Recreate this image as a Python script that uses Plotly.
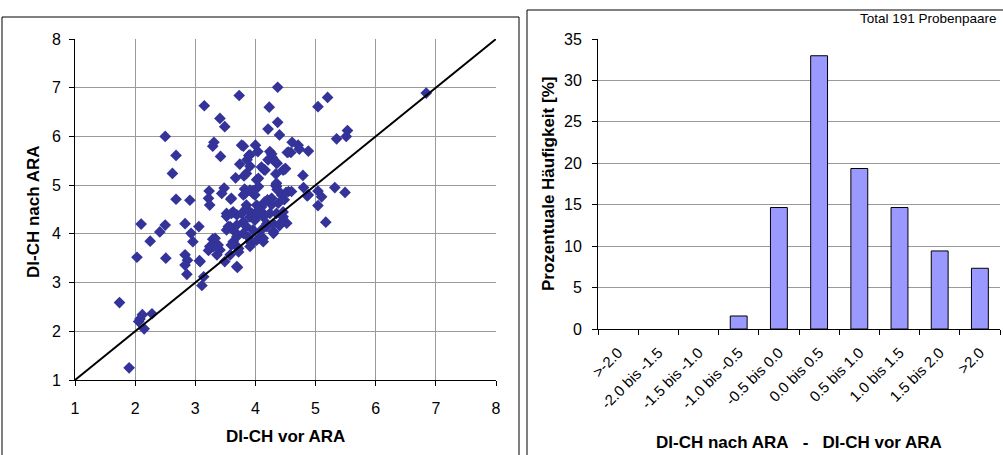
import plotly.graph_objects as go

# ---------------- data ----------------
vor_ara = [
    1.74, 1.90, 2.06, 2.08, 2.12, 2.28, 2.15, 2.03, 2.10, 2.25, 2.41, 2.50, 2.51, 2.50, 2.62, 2.68, 2.68, 2.91,
    2.83, 2.93, 2.96, 2.83, 2.87, 2.83, 2.86, 3.06, 3.07, 3.14, 3.11, 3.15, 3.73, 4.37, 4.23, 3.41, 3.49, 4.37,
    4.21, 4.40, 3.31, 3.29, 3.80, 4.00, 3.42, 5.20, 5.04, 6.84, 5.53, 5.51, 5.35, 5.17, 5.49, 5.32, 5.04, 5.10,
    5.04,
    4.61, 4.71, 4.73, 4.88, 4.55, 4.59, 4.27, 4.30, 4.36, 4.49, 4.34, 4.79, 4.53, 4.04, 3.89, 3.86, 4.35, 3.74,
    3.91, 4.10, 4.14, 3.67, 3.81, 4.05, 4.50, 4.24, 4.28, 4.21, 4.33, 3.77, 3.91, 3.85, 4.02, 4.05, 4.35, 4.46,
    4.16,
    3.23, 3.22, 3.24, 3.48, 3.44, 3.59, 3.82, 3.80, 3.96, 4.27, 4.35, 4.51, 4.34, 4.36, 4.44, 4.48, 4.55, 4.60,
    4.80, 4.86, 4.88, 3.83, 3.91, 3.99, 3.85, 4.02, 3.94, 3.60, 3.96,
    3.29, 3.24, 3.22, 3.38, 3.36, 3.49, 3.52, 3.63, 3.69, 3.52, 3.58, 3.66, 3.63, 3.69, 3.72, 3.70, 3.80, 3.85,
    3.80, 3.88, 3.94, 4.13, 4.19, 4.24, 4.30, 4.10, 4.02, 4.30, 4.35, 4.41, 4.46, 3.33, 3.52, 3.60, 3.55, 3.69,
    3.77, 3.85, 3.91, 3.99, 4.05, 4.13, 3.91, 4.08, 4.13, 3.96, 3.69, 3.30, 3.41, 3.60, 3.72, 3.58, 3.08, 3.69,
    3.91, 4.10, 4.19, 4.30, 4.40, 4.52, 4.46, 4.38, 4.46, 4.13, 4.27, 4.20, 4.10, 4.15, 4.05,
]
nach_ara = [
    2.59, 1.25, 2.20, 2.25, 2.34, 2.36, 2.05, 3.52, 4.20, 3.85, 4.04, 4.18, 3.50, 6.00, 5.24, 5.61, 4.71, 4.69,
    4.21, 4.01, 3.84, 3.57, 3.46, 3.36, 3.17, 4.15, 3.45, 3.12, 2.94, 6.63, 6.84, 7.01, 6.60, 6.37, 6.20, 6.29,
    6.15, 6.03, 5.88, 5.80, 5.80, 5.82, 5.59, 6.80, 6.61, 6.89, 6.12, 6.00, 5.95, 4.24, 4.85, 4.95, 4.58, 4.76,
    4.88,
    5.88, 5.82, 5.74, 5.70, 5.68, 5.67, 5.64, 5.52, 5.45, 5.33, 5.23, 5.20, 5.67, 5.69, 5.61, 5.52, 5.45, 5.43,
    5.39, 5.37, 5.32, 5.15, 5.19, 5.14, 5.34, 5.69, 5.57, 5.52, 5.48, 5.82, 5.62, 5.24, 5.11, 4.97, 5.04, 5.31,
    5.31,
    4.88, 4.73, 4.59, 4.94, 4.83, 4.71, 4.92, 4.80, 4.89, 4.73, 4.97, 4.85, 5.00, 4.91, 4.79, 4.70, 4.87, 4.87,
    4.95, 4.78, 4.80, 4.83, 4.90, 4.80, 4.59, 4.59, 4.42, 4.73, 4.83,
    3.89, 3.74, 3.66, 3.77, 3.57, 3.43, 4.42, 4.45, 4.39, 4.08, 4.15, 4.04, 3.84, 3.74, 3.63, 3.31, 4.25, 4.15,
    4.01, 3.94, 3.81, 4.42, 4.21, 4.42, 4.21, 3.94, 3.87, 4.05, 4.42, 4.21, 4.35, 3.91, 4.36, 4.42, 4.15, 4.18,
    4.42, 4.52, 4.35, 4.28, 4.49, 4.35, 3.84, 3.94, 3.84, 4.08, 3.94, 3.74, 3.67, 3.77, 3.70, 3.57, 3.43, 3.33,
    3.74, 4.08, 4.15, 4.01, 4.17, 4.22, 4.28, 4.63, 4.45, 3.91, 4.60, 4.70, 4.55, 4.65, 4.40,
]
diag_x = [1, 8]
diag_y = [1, 8]
hist_categories = [">-2.0", "-2.0 bis -1.5", "-1.5 bis -1.0", "-1.0 bis -0.5", "-0.5 bis 0.0",
                   "0.0 bis 0.5", "0.5 bis 1.0", "1.0 bis 1.5", "1.5 bis 2.0", ">2.0"]
hist_percent = [0, 0, 0, 1.57, 14.66, 32.98, 19.37, 14.66, 9.42, 7.33]
scatter_ticks = [1, 2, 3, 4, 5, 6, 7, 8]
hist_ticks = [0, 5, 10, 15, 20, 25, 30, 35]

# ---------------- figure ----------------
W, H = 1003, 455
FONT = "Liberation Sans, Arial, sans-serif"

def px_x(p):
    return p / W

def px_y(p):
    return 1 - p / H

fig = go.Figure()

fig.add_trace(go.Scatter(
    x=vor_ara, y=nach_ara, mode="markers",
    marker=dict(symbol="diamond", size=9, color="#333399", line=dict(width=0)),
    xaxis="x", yaxis="y", showlegend=False, cliponaxis=False,
))
fig.add_trace(go.Scatter(
    x=diag_x, y=diag_y, mode="lines",
    line=dict(color="black", width=2),
    xaxis="x", yaxis="y", showlegend=False,
))
# empty classes get no outline (Excel draws nothing for a zero bar)
bar_outline = [1 if v > 0 else 0 for v in hist_percent]
fig.add_trace(go.Bar(
    x=hist_categories, y=hist_percent, width=0.42,
    marker=dict(color="#9999FF", line=dict(color="black", width=bar_outline)),
    xaxis="x2", yaxis="y2", showlegend=False,
))

def axis_common(size=16, standoff=4):
    return dict(
        showline=True, linecolor="black", linewidth=1,
        ticks="outside", ticklen=5, tickcolor="black",
        tickfont=dict(family=FONT, size=size, color="black"),
        ticklabelstandoff=standoff,
        zeroline=False, automargin=False,
    )

fig.update_layout(
    width=W, height=H,
    margin=dict(l=0, r=0, t=0, b=0, pad=0),
    paper_bgcolor="white", plot_bgcolor="white",
    font=dict(family=FONT, color="black"),
    xaxis=dict(domain=[px_x(75), px_x(496)], range=[1, 8], tickvals=scatter_ticks,
               showgrid=True, gridcolor="#9a9a9a", gridwidth=1, anchor="y",
               **axis_common(16, 9)),
    yaxis=dict(domain=[px_y(380), px_y(39)], range=[1, 8], tickvals=scatter_ticks,
               showgrid=True, gridcolor="#9a9a9a", gridwidth=1, anchor="x",
               **axis_common(16, 5)),
    xaxis2=dict(domain=[px_x(598), px_x(1000)], anchor="y2", type="category",
                range=[-0.5, 9.5], tickson="boundaries", tickangle=-45,
                showgrid=False, **axis_common(15, 8)),
    yaxis2=dict(domain=[px_y(329), px_y(39)], anchor="x2", range=[0, 35], tickvals=hist_ticks,
                showgrid=True, gridcolor="#9a9a9a", gridwidth=1, **axis_common(16, 7)),
    bargap=0.58,
)

# Axis titles and note
title_font = dict(family=FONT, size=17, color="black")
ann = [
    dict(text="<b>DI-CH nach ARA</b>", x=px_x(33), y=px_y(212), textangle=-90),
    dict(text="<b>DI-CH vor ARA</b>", x=px_x(285), y=px_y(436)),
    dict(text="<b>Prozentuale Häufigkeit [%]</b>", x=px_x(548), y=px_y(184), textangle=-90),
    dict(text="<b>DI-CH nach ARA\u00a0\u00a0\u00a0-\u00a0\u00a0\u00a0DI-CH vor ARA</b>", x=px_x(799), y=px_y(442)),
]
for a in ann:
    fig.add_annotation(xref="paper", yref="paper", showarrow=False, font=title_font,
                       xanchor="center", yanchor="middle", **a)
fig.add_annotation(text="Total 191 Probenpaare", xref="paper", yref="paper",
                   x=px_x(999), y=px_y(19), xanchor="right", yanchor="middle", showarrow=False,
                   font=dict(family=FONT, size=13.5, color="black"))

# Panel frames
fig.add_shape(type="rect", xref="paper", yref="paper",
              x0=px_x(2), x1=px_x(519), y0=px_y(470), y1=px_y(17),
              line=dict(color="black", width=1), fillcolor="rgba(0,0,0,0)", layer="below")
fig.add_shape(type="rect", xref="paper", yref="paper",
              x0=px_x(527), x1=px_x(1010), y0=px_y(470), y1=px_y(10),
              line=dict(color="black", width=1), fillcolor="rgba(0,0,0,0)", layer="below")

fig.write_html(
    "out.html",
    post_script="document.body.style.margin='0';document.body.style.overflow='hidden';",
)
